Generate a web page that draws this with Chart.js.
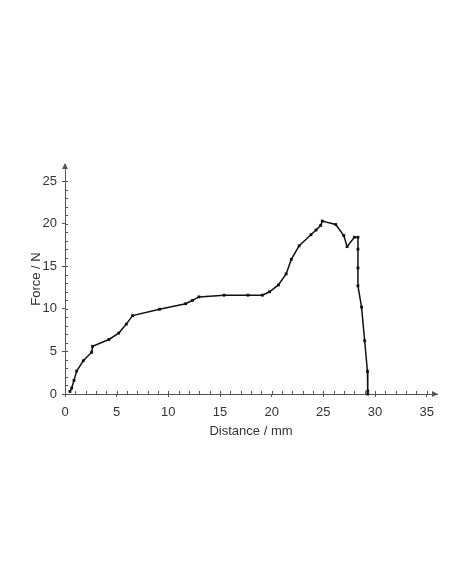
<!DOCTYPE html>
<html>
<head>
<meta charset="utf-8">
<script src="https://cdn.jsdelivr.net/npm/chart.js@4"></script>
<style>
  html, body { margin: 0; padding: 0; background: #fff; }
  #wrap { width: 452px; height: 584px; }
</style>
</head>
<body>
<div id="wrap"><canvas id="chart" width="452" height="584"></canvas></div>
<script>
// valores
const distance = [0.48, 0.65, 0.87, 1.13, 1.77, 2.58, 2.67, 4.25, 5.2, 5.93, 6.54, 9.15, 11.67, 12.35, 12.96,
  15.4, 17.7, 19.1, 19.8, 20.65, 21.4, 21.9, 22.66, 23.8, 24.3, 24.75, 24.9, 26.2, 26.98, 27.3,
  28.0, 28.35, 28.35, 28.35, 28.35, 28.7, 29.0, 29.27, 29.3, 29.3];
const force = [0.3, 0.7, 1.6, 2.7, 3.9, 4.9, 5.6, 6.4, 7.15, 8.2, 9.2, 9.95, 10.6, 11.0, 11.4,
  11.6, 11.6, 11.6, 12.0, 12.8, 14.1, 15.8, 17.4, 18.7, 19.25, 19.8, 20.3, 19.9, 18.6, 17.3,
  18.4, 18.4, 17.0, 14.8, 12.7, 10.2, 6.25, 2.65, 0.35, 0.0];
const xTicks = [0, 5, 10, 15, 20, 25, 30, 35];
const yTicks = [0, 5, 10, 15, 20, 25];
const xMinor = Array.from({ length: 35 }, (_, i) => i + 1).filter(v => v % 5 !== 0);
const yMinor = Array.from({ length: 25 }, (_, i) => i + 1).filter(v => v % 5 !== 0);

const axisColor = '#555';
const fontBase = { family: "'Liberation Sans', Arial, sans-serif", size: 13 };

// ticks menores para dentro e setas nas pontas dos eixos
const eixosPlugin = {
  id: 'eixos',
  afterDraw(chart) {
    const ctx = chart.ctx;
    const xs = chart.scales.x, ys = chart.scales.y;
    const y0 = ys.getPixelForValue(0), x0 = xs.getPixelForValue(0);
    ctx.save();
    ctx.strokeStyle = axisColor;
    ctx.fillStyle = axisColor;
    ctx.lineWidth = 1;
    ctx.beginPath();
    xMinor.concat(xTicks).forEach(v => {
      const px = Math.round(xs.getPixelForValue(v)) + 0.5;
      ctx.moveTo(px, y0);
      ctx.lineTo(px, y0 - 3);
    });
    yMinor.concat(yTicks).forEach(v => {
      const py = Math.round(ys.getPixelForValue(v)) + 0.5;
      ctx.moveTo(x0, py);
      ctx.lineTo(x0 + 3, py);
    });
    ctx.stroke();
    // setas
    const xEnd = xs.getPixelForValue(36);
    ctx.beginPath();
    ctx.moveTo(xEnd + 1, y0);
    ctx.lineTo(xEnd - 5, y0 - 3);
    ctx.lineTo(xEnd - 5, y0 + 3);
    ctx.closePath();
    ctx.fill();
    const yEnd = ys.getPixelForValue(27);
    ctx.beginPath();
    ctx.moveTo(x0, yEnd - 1);
    ctx.lineTo(x0 - 3, yEnd + 5);
    ctx.lineTo(x0 + 3, yEnd + 5);
    ctx.closePath();
    ctx.fill();
    ctx.restore();
  }
};

new Chart(document.getElementById('chart'), {
  type: 'scatter',
  data: {
    datasets: [{
      data: distance.map((d, i) => ({ x: d, y: force[i] })),
      showLine: true,
      borderColor: '#111',
      backgroundColor: '#111',
      borderWidth: 1.5,
      pointRadius: 2,
      pointStyle: 'rect',
      pointBorderWidth: 0,
      clip: false
    }]
  },
  options: {
    responsive: false,
    animation: false,
    layout: { padding: { left: 0, top: 164, right: 15, bottom: 145 } },
    plugins: { legend: { display: false }, tooltip: { enabled: false } },
    scales: {
      x: {
        type: 'linear',
        min: 0,
        max: 36,
        afterBuildTicks: s => { s.ticks = xTicks.map(v => ({ value: v })); },
        afterFit: s => { s.height = 45; },
        grid: { drawOnChartArea: false, drawTicks: true, tickLength: 3, color: axisColor },
        border: { color: axisColor, width: 1 },
        ticks: { color: '#333', font: fontBase, padding: 8, maxRotation: 0 },
        title: { display: true, text: 'Distance / mm', color: '#333', font: fontBase, padding: { top: 2, bottom: 0 } }
      },
      y: {
        type: 'linear',
        min: 0,
        max: 27,
        afterBuildTicks: s => { s.ticks = yTicks.map(v => ({ value: v })); },
        afterFit: s => { s.width = 65; },
        grid: { drawOnChartArea: false, drawTicks: true, tickLength: 3, color: axisColor },
        border: { color: axisColor, width: 1 },
        ticks: { color: '#333', font: fontBase, padding: 5 },
        title: { display: true, text: 'Force / N', color: '#333', font: fontBase, padding: { top: 29, bottom: 0 } }
      }
    }
  },
  plugins: [eixosPlugin]
});
</script>
</body>
</html>
